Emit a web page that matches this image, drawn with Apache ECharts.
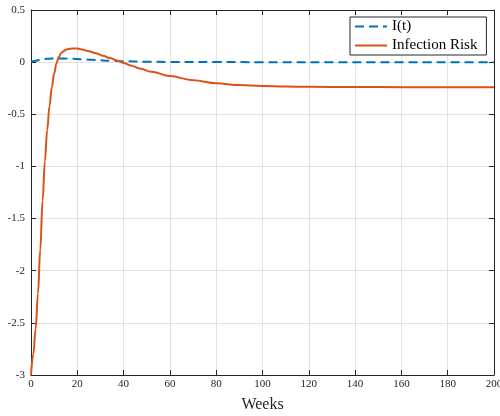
<!DOCTYPE html>
<html><head><meta charset="utf-8">
<script src="https://cdn.jsdelivr.net/npm/echarts@6/dist/echarts.min.js"></script>
<style>html,body{margin:0;padding:0;background:#fff}#c{width:500px;height:416px}</style>
</head><body><div id="c"></div>
<script>
var riskWeeks = [0,1,2,3,4,5,6,7,8,9,10,11,12,13,14,15,16,18,20,22,25,28,31,34,37,40,43,47,52,60,70,80,90,100,110,120,140,160,180,200];
var riskValues = [-3.0,-2.8,-2.56,-2.22,-1.8,-1.33,-0.95,-0.65,-0.42,-0.24,-0.11,-0.01,0.05,0.085,0.105,0.118,0.126,0.131,0.13,0.122,0.105,0.085,0.062,0.04,0.016,-0.008,-0.032,-0.06,-0.092,-0.133,-0.173,-0.202,-0.22,-0.229,-0.234,-0.237,-0.239,-0.24,-0.24,-0.24];
var iWeeks = [0,2,4,6,8,10,14,18,22,26,30,35,40,50,60,80,100,140,200];
var iValues = [0,0.013,0.024,0.03,0.033,0.035,0.035,0.032,0.028,0.022,0.017,0.012,0.008,0.004,0.002,0.0005,0,0,0];
var seriesNames = ['I(t)', 'Infection Risk'];
var xLabel = 'Weeks';

function pairs(xs, ys){ return xs.map(function(x,i){ return [x, ys[i]]; }); }

var font = 'Liberation Serif';
var axisColor = '#262626';
var chart = echarts.init(document.getElementById('c'), null, {renderer:'canvas'});
chart.setOption({
  animation: false,
  backgroundColor: '#fff',
  grid: {left: 31, right: 6, top: 10, bottom: 41, containLabel: false, outerBoundsMode: 'none'},
  legend: {
    orient: 'vertical', left: 350, top: 17,
    backgroundColor: '#fff', borderColor: axisColor, borderWidth: 1,
    padding: [2, 9, 2, 4], itemGap: 4, itemWidth: 32, itemHeight: 14,
    itemStyle: {opacity: 0},
    textStyle: {fontFamily: font, fontSize: 15, color: '#000'},
    data: seriesNames
  },
  xAxis: [{
    type: 'value', min: 0, max: 200, interval: 20, position: 'bottom',
    name: xLabel, nameLocation: 'middle', nameGap: 22,
    nameTextStyle: {fontFamily: font, fontSize: 16, color: '#262626'},
    axisLine: {show: true, onZero: false, lineStyle: {color: axisColor, width: 1}},
    axisTick: {show: true, inside: true, length: 5, lineStyle: {color: axisColor}},
    axisLabel: {fontFamily: font, fontSize: 11, color: '#262626', margin: 4},
    splitLine: {show: true, lineStyle: {color: '#e3e3e3', width: 1}}
  }, {
    type: 'value', min: 0, max: 200, interval: 20, position: 'top',
    axisLine: {show: true, onZero: false, lineStyle: {color: axisColor, width: 1}},
    axisTick: {show: true, inside: true, length: 5, lineStyle: {color: axisColor}},
    axisLabel: {show: false}, splitLine: {show: false}
  }],
  yAxis: [{
    type: 'value', min: -3, max: 0.5, interval: 0.5, position: 'left',
    axisLine: {show: true, onZero: false, lineStyle: {color: axisColor, width: 1}},
    axisTick: {show: true, inside: true, length: 5, lineStyle: {color: axisColor}},
    axisLabel: {fontFamily: font, fontSize: 11, color: '#262626', margin: 6},
    splitLine: {show: true, lineStyle: {color: '#e3e3e3', width: 1}}
  }, {
    type: 'value', min: -3, max: 0.5, interval: 0.5, position: 'right',
    axisLine: {show: true, onZero: false, lineStyle: {color: axisColor, width: 1}},
    axisTick: {show: true, inside: true, length: 5, lineStyle: {color: axisColor}},
    axisLabel: {show: false}, splitLine: {show: false}
  }],
  series: [{
    name: seriesNames[0], type: 'line', data: pairs(iWeeks, iValues),
    showSymbol: false, symbol: 'none', smooth: 0.4, smoothMonotone: 'x',
    itemStyle: {color: '#0072BD'},
    lineStyle: {color: '#0072BD', width: 2, type: [9, 5]}
  }, {
    name: seriesNames[1], type: 'line', data: pairs(riskWeeks, riskValues),
    showSymbol: false, symbol: 'none', smooth: 0.4, smoothMonotone: 'x',
    itemStyle: {color: '#D95319'},
    lineStyle: {color: '#D95319', width: 2}
  }]
});
</script></body></html>
